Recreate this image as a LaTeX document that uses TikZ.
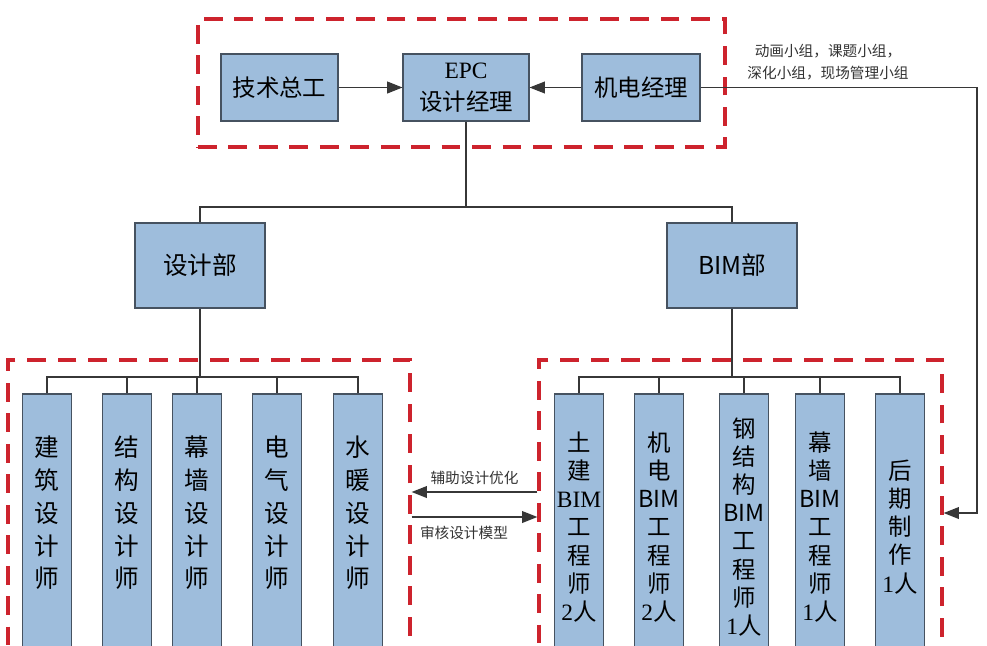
\documentclass[tikz,border=0pt]{standalone}
\usepackage{fontspec}
\setmainfont{Noto Sans CJK SC}
\newfontfamily\serifl{Liberation Serif}
\usetikzlibrary{arrows.meta,positioning}
\definecolor{BoxBlue}{RGB}{158,189,220}
\definecolor{BoxEdge}{RGB}{70,82,96}
\definecolor{GroupRed}{RGB}{205,35,45}
\definecolor{LineGray}{RGB}{55,55,55}

\tikzset{
  unit/.style={draw=BoxEdge, line width=0.9pt, fill=BoxBlue, inner sep=0pt, align=center},
  topbox/.style={unit, minimum height=2.01cm, font=\fontsize{20}{27}\selectfont},
  deptbox/.style={unit, minimum width=3.9cm, minimum height=2.55cm, font=\fontsize{21}{26}\selectfont},
  colbox/.style={unit, minimum width=1.47cm, minimum height=7.98cm, font=\fontsize{20}{24}\selectfont},
  lefttext/.style={align=center, inner sep=0pt, font=\fontsize{21}{28}\selectfont},
  group/.style={draw=GroupRed, line width=2.8pt, dash pattern=on 16pt off 10pt},
  link/.style={draw=LineGray, line width=1.2pt},
  arr/.style={link, -{Triangle[length=13pt,width=10pt]}},
  note/.style={font=\fontsize{12.5}{19}\selectfont, text=black!80, inner sep=1pt}
}

\begin{document}
\begin{tikzpicture}[x=0.03cm, y=-0.03cm]
  \useasboundingbox (0,0) rectangle (987,645);
  \clip (0,0) rectangle (987,645);
  %% dashed groups
  \node[group, minimum width=15.81cm, minimum height=3.84cm] (grpTop) at (461.5,83) {};
  \node[group, minimum width=12.06cm, minimum height=9cm] (grpL) at (209,510) {};
  \node[group, minimum width=12.09cm, minimum height=9cm] (grpR) at (740.5,510) {};
  %% management
  \node[topbox, minimum width=3.51cm] (jszg) at (279.5,87.5) {技术总工};
  \node[topbox, minimum width=3.78cm] (epc) at (466,87.5) {{\serifl EPC}\\设计经理};
  \node[topbox, minimum width=3.54cm] (jdjl) at (641,87.5) {机电经理};
  \draw[arr] (jszg) -- (epc);
  \draw[arr] (jdjl) -- (epc);
  \node[note, align=center] (grpNote) at (828,62) {动画小组，课题小组，\\深化小组，现场管理小组};
  %% departments
  \node[deptbox] (sjb) at (200,265.5) {设计部};
  \node[deptbox] (bimb) at (732,265.5) {BIM部};
  \coordinate (hubTop) at (466,207);
  \draw[link] (epc) -- (hubTop);
  \draw[link] (sjb.north) |- (hubTop) -| (bimb.north);
  %% design staff
  \coordinate (hubL) at (200,377);
  \node[colbox, label={[lefttext, yshift=12pt]center:建\\筑\\设\\计\\师}] (jzs) at (47,527) {};
  \node[colbox, label={[lefttext, yshift=12pt]center:结\\构\\设\\计\\师}] (jgs) at (127,527) {};
  \node[colbox, label={[lefttext, yshift=12pt]center:幕\\墙\\设\\计\\师}] (mqs) at (197,527) {};
  \node[colbox, label={[lefttext, yshift=12pt]center:电\\气\\设\\计\\师}] (dqs) at (277,527) {};
  \node[colbox, label={[lefttext, yshift=12pt]center:水\\暖\\设\\计\\师}] (sns) at (358,527) {};
  \draw[link] (sjb) -- (hubL);
  \foreach \c in {jzs,jgs,mqs,dqs,sns}
    \draw[link] (\c.north) |- (hubL);
  %% BIM staff
  \coordinate (hubR) at (732,377);
  \node[colbox] (tjg) at (579,527) {土\\建\\{\serifl BIM}\\工\\程\\师\\{\serifl 2}人};
  \node[colbox] (jdg) at (659,527) {机\\电\\BIM\\工\\程\\师\\{\serifl 2}人};
  \node[colbox] (gjg) at (744,527) {钢\\结\\构\\BIM\\工\\程\\师\\{\serifl 1}人};
  \node[colbox] (mqg) at (820,527) {幕\\墙\\BIM\\工\\程\\师\\{\serifl 1}人};
  \node[colbox] (hqz) at (900,527) {后\\期\\制\\作\\{\serifl 1}人};
  \draw[link] (bimb) -- (hubR);
  \foreach \c in {tjg,jdg,gjg,mqg,hqz}
    \draw[link] (\c.north) |- (hubR);
  %% exchange between groups
  \coordinate (optY) at (0,492);
  \coordinate (chkY) at (0,517);
  \draw[arr] (grpR.west |- optY) -- node[note, above=5pt] {辅助设计优化} (grpL.east |- optY);
  \draw[arr] (grpL.east |- chkY) -- node[note, below=6pt, xshift=-9pt] {审核设计模型} (grpR.west |- chkY);
  %% feedback line
  \coordinate (fbTurn) at (977,513);
  \draw[arr] (jdjl.east) -| (fbTurn) -- (grpR.east |- fbTurn);
\end{tikzpicture}
\end{document}
